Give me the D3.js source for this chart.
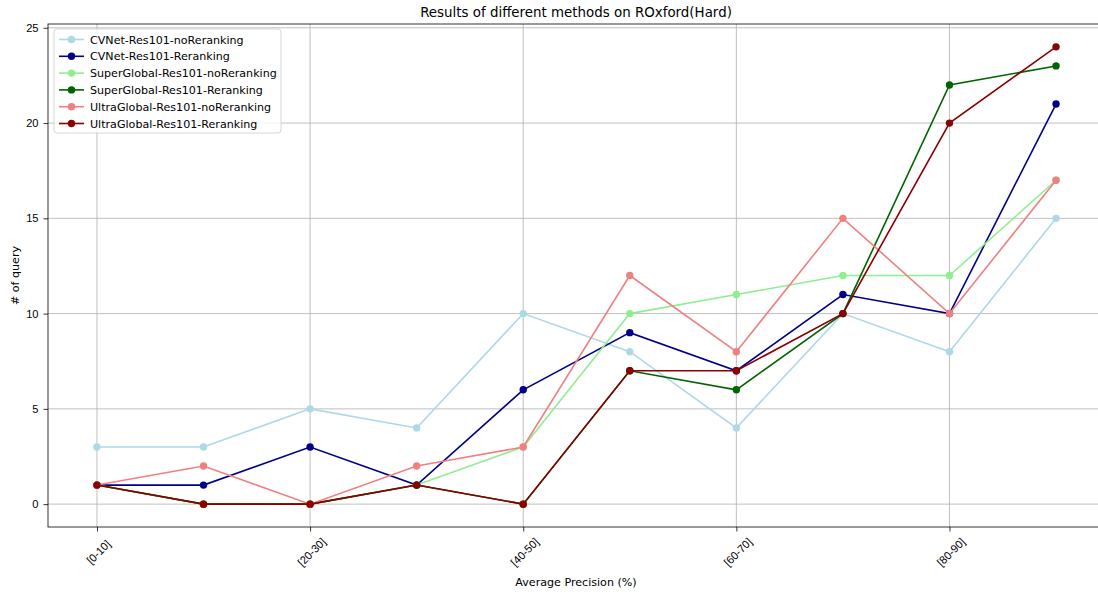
<!DOCTYPE html>
<html>
<head>
<meta charset="utf-8">
<script src="https://cdn.jsdelivr.net/npm/d3@7"></script>
<style>
  body{margin:0;background:#fff;font-family:"DejaVu Sans",sans-serif}
</style>
</head>
<body>
<script>
var bins=["[0-10]","[10-20]","[20-30]","[30-40]","[40-50]","[50-60]","[60-70]","[70-80]","[80-90]","[90-100]"]
var names=["CVNet-Res101-noReranking","CVNet-Res101-Reranking","SuperGlobal-Res101-noReranking","SuperGlobal-Res101-Reranking","UltraGlobal-Res101-noReranking","UltraGlobal-Res101-Reranking"]
var colors=["#add8e6","#00008b","#90ee90","#006400","#f08080","#8b0000"]
var cvnetNo=[3,3,5,4,10,8,4,10,8,15]
var cvnetRe=[1,1,3,1,6,9,7,11,10,21]
var superNo=[1,0,0,1,3,10,11,12,12,17]
var superRe=[1,0,0,1,0,7,6,10,22,23]
var ultraNo=[1,2,0,2,3,12,8,15,10,17]
var ultraRe=[1,0,0,1,0,7,7,10,20,24]
var yTicks=[0,5,10,15,20,25]

var series=[cvnetNo,cvnetRe,superNo,superRe,ultraNo,ultraRe].map(function(v,i){
  return {name:names[i],color:colors[i],values:v}
})

var screen={width:1098,height:594}
var plot={left:48,right:1104,top:24,bottom:527}
var fs=11.1

var xScale=d3.scaleLinear().domain([-0.45,bins.length-1+0.45]).range([plot.left+1,plot.right])
var yScale=d3.scaleLinear().domain([-1.2,25.2]).range([plot.bottom,plot.top])

var svg=d3.select("body").append("svg")
  .attr("width",screen.width)
  .attr("height",screen.height)
  .style("font-family","'DejaVu Sans',sans-serif")

// grid
var evenIdx=d3.range(0,bins.length,2)
svg.append("g").selectAll("line").data(evenIdx).enter().append("line")
  .attr("x1",function(d){return xScale(d)}).attr("x2",function(d){return xScale(d)})
  .attr("y1",plot.top).attr("y2",plot.bottom)
  .attr("stroke","#b0b0b0").attr("stroke-width",0.8)
svg.append("g").selectAll("line").data(yTicks).enter().append("line")
  .attr("x1",plot.left).attr("x2",plot.right)
  .attr("y1",function(d){return yScale(d)}).attr("y2",function(d){return yScale(d)})
  .attr("stroke","#b0b0b0").attr("stroke-width",0.8)

// lines
var drawLine=d3.line()
  .x(function(d,i){return xScale(i)})
  .y(function(d){return yScale(d)})
var lines=svg.append("g")
series.forEach(function(s){
  var g=lines.append("g")
  g.append("path").datum(s.values)
    .attr("d",drawLine)
    .attr("fill","none")
    .attr("stroke",s.color)
    .attr("stroke-width",1.6)
  g.selectAll("circle").data(s.values).enter().append("circle")
    .attr("cx",function(d,i){return xScale(i)})
    .attr("cy",function(d){return yScale(d)})
    .attr("r",3.7)
    .attr("fill",s.color)
})

// axes
var xAxis=d3.axisBottom(xScale)
  .tickValues(evenIdx)
  .tickFormat(function(d){return bins[d]})
  .tickSizeOuter(0).tickSize(4.5).tickPadding(3)
var yAxis=d3.axisLeft(yScale)
  .tickValues(yTicks)
  .tickSizeOuter(0).tickSize(4.5).tickPadding(5)

var gx=svg.append("g")
  .attr("transform","translate(0,"+plot.bottom+")")
  .call(xAxis)
gx.select(".domain").remove()
gx.selectAll(".tick line").attr("stroke","#000").attr("stroke-width",0.8)
gx.selectAll(".tick text")
  .attr("font-size",fs).attr("fill","#000")
  .attr("text-anchor","middle")
  .attr("dy",null).attr("y",0)
  .attr("dominant-baseline","central")
  .attr("transform","translate(1,25) rotate(-45)")

var gy=svg.append("g")
  .attr("transform","translate("+plot.left+",0)")
  .call(yAxis)
gy.select(".domain").remove()
gy.selectAll(".tick line").attr("stroke","#000").attr("stroke-width",0.8)
gy.selectAll(".tick text").attr("font-size",fs).attr("fill","#000")

// spines
svg.append("rect")
  .attr("x",plot.left).attr("y",plot.top)
  .attr("width",plot.right-plot.left).attr("height",plot.bottom-plot.top)
  .attr("fill","none").attr("stroke","#000").attr("stroke-width",0.8)

// labels
svg.append("text").attr("x",576).attr("y",17).attr("text-anchor","middle")
  .attr("font-size",13.4).text("Results of different methods on ROxford(Hard)")
svg.append("text").attr("x",576).attr("y",586).attr("text-anchor","middle")
  .attr("font-size",fs).text("Average Precision (%)")
svg.append("text").attr("transform","translate(19,"+((plot.top+plot.bottom)/2)+") rotate(-90)")
  .attr("text-anchor","middle").attr("font-size",fs).text("# of query")

//legend
var legend=svg.append("g").attr("transform","translate(54,29)")
legend.append("rect").attr("width",227).attr("height",104).attr("rx",3)
  .attr("fill","#fff").attr("fill-opacity",0.8).attr("stroke","#cccccc").attr("stroke-width",0.8)
var legendLines=legend.selectAll("g.legendLine").data(series).enter().append("g")
  .classed("legendLine",true)
  .attr("transform",function(d,i){return "translate(0,"+(10.5+i*16.8)+")"})
legendLines.append("line").attr("x1",5).attr("x2",30).attr("y1",0).attr("y2",0)
  .attr("stroke",function(d){return d.color}).attr("stroke-width",1.6)
legendLines.append("circle").attr("cx",17.5).attr("cy",0).attr("r",3.7)
  .attr("fill",function(d){return d.color})
legendLines.append("text").attr("x",36).attr("y",4).attr("font-size",fs)
  .text(function(d){return d.name})
</script>
</body>
</html>
